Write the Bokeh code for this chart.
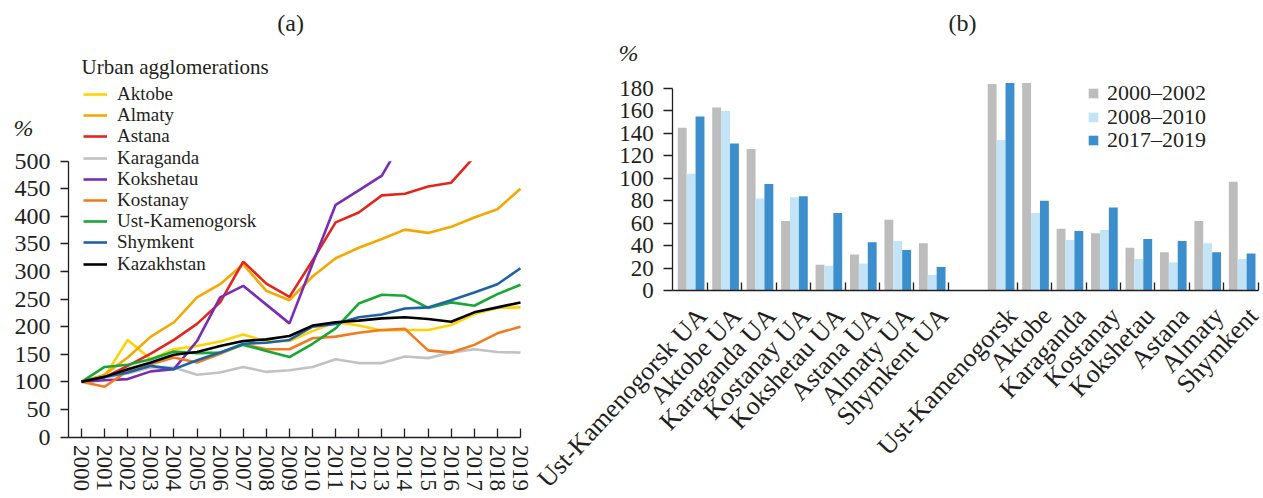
from bokeh.plotting import figure
from bokeh.models import Range1d, FixedTicker, Legend, LegendItem, Label, ColumnDataSource
from bokeh.core.properties import value
from bokeh.layouts import row
from bokeh.embed import file_html
from bokeh.resources import INLINE
import math

nan = float("nan")

# ---------------- data (a) ----------------
years = list(range(2000, 2020))
aktobe = [100, 110, 176, 141, 159, 165, 173, 186, 173, 174, 192, 208, 202, 193, 194, 194, 203, 223, 234, 235]
almaty = [100, 113, 144, 182, 208, 253, 277, 313, 265, 248, 291, 324, 343, 359, 376, 370, 381, 398, 413, 450]
astana = [100, 108, 129, 151, 176, 205, 244, 318, 278, 254, 320, 389, 407, 438, 441, 454, 461, 508, nan, nan]
karaganda = [100, 108, 115, 126, 126, 113, 117, 127, 118, 121, 127, 141, 134, 134, 146, 143, 153, 159, 154, 153]
kokshetau = [100, 103, 105, 119, 123, 174, 253, 274, 240, 206, 314, 421, 447, 474, 546, nan, nan, nan, nan, nan]
kostanay = [100, 91, 120, 132, 144, 135, 151, 168, 159, 159, 179, 182, 189, 194, 196, 157, 153, 167, 188, 200]
ust_kamenogorsk = [100, 127, 131, 141, 155, 152, 153, 167, 156, 145, 169, 197, 242, 258, 256, 234, 244, 238, 259, 276]
shymkent = [100, 109, 117, 129, 123, 139, 153, 169, 171, 176, 200, 205, 217, 222, 233, 235, 248, 262, 277, 306]
kazakhstan = [100, 109, 123, 135, 149, 154, 165, 174, 177, 183, 202, 208, 211, 215, 217, 214, 209, 226, 235, 244]

series_names = ["Aktobe", "Almaty", "Astana", "Karaganda", "Kokshetau", "Kostanay",
                "Ust-Kamenogorsk", "Shymkent", "Kazakhstan"]
series_values = [aktobe, almaty, astana, karaganda, kokshetau, kostanay,
                 ust_kamenogorsk, shymkent, kazakhstan]
series_colors = ["#ffd200", "#f7a800", "#e3261b", "#c2c2c2", "#7a2db2", "#f47a20",
                 "#17a834", "#1f62a8", "#000000"]
y_ticks_a = list(range(0, 501, 50))
legend_title_a = "Urban agglomerations"

# ---------------- data (b) ----------------
ua_names = ["Ust-Kamenogorsk UA", "Aktobe UA", "Karaganda UA", "Kostanay UA",
            "Kokshetau UA", "Astana UA", "Almaty UA", "Shymkent UA"]
city_names = ["Ust-Kamenogorsk", "Aktobe", "Karaganda", "Kostanay",
              "Kokshetau", "Astana", "Almaty", "Shymkent"]
period_names = ["2000\u20132002", "2008\u20132010", "2017\u20132019"]
p2000_2002 = [145, 163, 126, 62, 23, 32, 63, 42, 184, 185, 55, 51, 38, 34, 62, 97]
p2008_2010 = [104, 160, 82, 83, 22, 24, 44, 14, 134, 69, 45, 54, 28, 25, 42, 28]
p2017_2019 = [155, 131, 95, 84, 69, 43, 36, 21, 185, 80, 53, 74, 46, 44, 34, 33]
period_values = [p2000_2002, p2008_2010, p2017_2019]
period_colors = ["#bdbdbd", "#c2e4f6", "#3d8ecc"]
y_ticks_b = list(range(0, 181, 20))

FONT = "Liberation Serif"
TXT = "#231f20"


def style_axis(ax, size):
    ax.major_label_text_font = FONT
    ax.major_label_text_font_size = size
    ax.major_label_text_color = TXT
    ax.axis_line_color = TXT
    ax.major_tick_line_color = TXT
    ax.axis_line_width = 1.3
    ax.major_tick_line_width = 1.3
    ax.minor_tick_in = 0
    ax.minor_tick_out = 0


def one_item_legend(item, x, y, size, gw, gh, standoff):
    return Legend(items=[item], location=(x, y),
                  label_text_font=FONT, label_text_font_size=size, label_text_color=TXT,
                  label_height=10, glyph_height=gh, glyph_width=gw, label_standoff=standoff,
                  spacing=0, padding=0, margin=0,
                  border_line_color=None, background_fill_alpha=0)


# ================= (a) =================
KX = 23.105          # px per year
KY = 0.5516          # px per %
WA, H = 532, 498
xa0 = 2000 - 81 / KX
xa1 = xa0 + WA / KX
ya0 = -(H - 436.5) / KY
ya1 = ya0 + H / KY
ymax_a = y_ticks_a[-1]
pa = figure(frame_width=WA, frame_height=H,
            x_range=Range1d(xa0, xa1), y_range=Range1d(ya0, ya1),
            min_border=0, min_border_left=0, min_border_right=0, min_border_top=0, min_border_bottom=0,
            output_backend="svg", toolbar_location=None)
pa.outline_line_color = None
pa.xgrid.visible = False
pa.ygrid.visible = False

renderers_a = []
for vals, col in zip(series_values, series_colors):
    renderers_a.append(pa.line(years, vals, line_color=col, line_width=2.6))

# white cover above the axis maximum (lines leave the chart at 500 %)
pa.quad(left=[xa0], right=[xa1], bottom=[ymax_a], top=[ya1],
        fill_color="white", line_color=None)

# legend: one row per item, ~21 px apart
ROW_A, TOP_A, HALF_A = 21.2, 93.5, 11.5
for k, (name, r) in enumerate(zip(series_names, renderers_a)):
    y_loc = H - (TOP_A + ROW_A * k) - HALF_A
    pa.add_layout(one_item_legend(LegendItem(label=name, renderers=[r]), 83, y_loc,
                                  "19px", 24, 16, 10), "center")

pa.add_layout(Label(x=2000, y=(436.5 - 66) / KY, text=legend_title_a, text_font=FONT,
                    text_font_size="21px", text_color=TXT,
                    text_align="left", text_baseline="middle"))

ya = pa.yaxis[0]
ya.fixed_location = 2000 - 13 / KX
ya.ticker = FixedTicker(ticks=y_ticks_a)
ya.bounds = (0, ymax_a)
ya.major_tick_in = 0
ya.major_tick_out = 8
ya.major_label_standoff = 10
style_axis(ya, "24px")

xa = pa.xaxis[0]
xa.fixed_location = 0
xa.bounds = (2000 - 13 / KX, years[-1])
xa.ticker = FixedTicker(ticks=years)
xa.major_tick_in = 9
xa.major_tick_out = 0
xa.major_label_orientation = "vertical"
xa.major_label_standoff = 8
style_axis(xa, "23px")

pa.add_layout(Label(x=2009.05, y=750, text="(a)", text_font=FONT, text_font_size="24px",
                    text_color=TXT, text_align="center", text_baseline="middle"))
pa.add_layout(Label(x=1997.49, y=561, text="%", text_font=FONT, text_font_size="24px",
                    text_font_style="italic", text_color=TXT,
                    text_align="center", text_baseline="middle"))

# ================= (b) =================
SX = 34.44           # px per slot
SY = 202 / 180       # px per %
WB = 1263 - WA
xb0 = -(672.3 - WA) / SX
yb0 = -(H - 290) / SY
pb = figure(frame_width=WB, frame_height=H,
            x_range=Range1d(xb0, xb0 + WB / SX), y_range=Range1d(yb0, yb0 + H / SY),
            min_border=0, min_border_left=0, min_border_right=0, min_border_top=0, min_border_bottom=0,
            output_backend="svg", toolbar_location=None)
pb.outline_line_color = None
pb.xgrid.visible = False
pb.ygrid.visible = False

all_names = ua_names + city_names
slots = [i if i < len(ua_names) else i + 1 for i in range(len(all_names))]
n_slots = slots[-1] + 1
offsets = [0.274, 0.532, 0.79]
bar_w = 0.258
ROW_B, TOP_B, HALF_B = 23.5, 93.0, 13.3
for k, (pname, vals, col, off) in enumerate(zip(period_names, period_values, period_colors, offsets)):
    xs = [s + off for s in slots]
    r = pb.vbar(x=xs, top=vals, width=bar_w, fill_color=col, line_color=None)
    y_loc = H - (TOP_B + ROW_B * k) - HALF_B
    pb.add_layout(one_item_legend(LegendItem(label=pname, renderers=[r]), 1087 - WA, y_loc,
                                  "22px", 12, 12, 8), "center")

yb = pb.yaxis[0]
yb.fixed_location = 0
yb.ticker = FixedTicker(ticks=y_ticks_b)
yb.bounds = (0, y_ticks_b[-1])
yb.major_tick_in = 0
yb.major_tick_out = 9
yb.major_label_standoff = 10
style_axis(yb, "23px")

tick_pos = [s + 1 for s in slots]
xb = pb.xaxis[0]
xb.fixed_location = 0
xb.bounds = (0, n_slots)
xb.ticker = FixedTicker(ticks=tick_pos)
xb.major_label_overrides = {t: "" for t in tick_pos}
xb.major_tick_in = 8
xb.major_tick_out = 0
style_axis(xb, "1px")

lab_src = ColumnDataSource(dict(x=tick_pos, y=[0] * len(tick_pos), text=all_names))
pb.text(x="x", y="y", text="text", source=lab_src, angle=math.radians(47),
        text_align="right", text_baseline="middle", x_offset=-5, y_offset=21,
        text_font=value(FONT), text_font_size="26px", text_color=TXT)

pb.add_layout(Label(x=8.41, y=238, text="(b)", text_font=FONT, text_font_size="24px",
                    text_color=TXT, text_align="center", text_baseline="middle"))
pb.add_layout(Label(x=-1.29, y=212, text="%", text_font=FONT, text_font_size="24px",
                    text_font_style="italic", text_color=TXT,
                    text_align="center", text_baseline="middle"))

layout = row(pa, pb, spacing=0)
open("out.html", "w").write(file_html(layout, INLINE))
